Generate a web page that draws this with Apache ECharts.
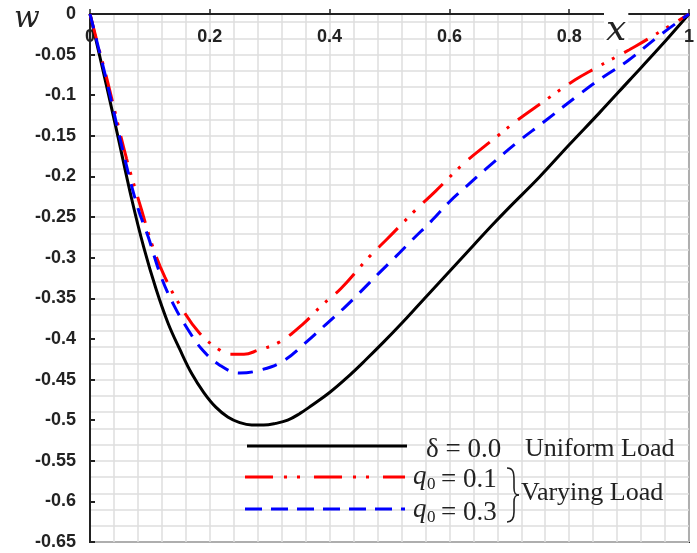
<!DOCTYPE html>
<html>
<head>
<meta charset="utf-8">
<script src="https://cdn.jsdelivr.net/npm/echarts@6/dist/echarts.min.js"></script>
<style>
html,body{margin:0;padding:0;background:#fff;}
#chart{width:697px;height:553px;}
</style>
</head>
<body>
<div id="chart"></div>
<script>
// ---- data ----
var xTicks = [0, 0.2, 0.4, 0.6, 0.8, 1];
var yTicks = [0, -0.05, -0.1, -0.15, -0.2, -0.25, -0.3, -0.35, -0.4, -0.45, -0.5, -0.55, -0.6, -0.65];

var uniformX = [0, 0.02, 0.044, 0.07, 0.09, 0.11, 0.13, 0.15, 0.17, 0.19, 0.21, 0.23, 0.25, 0.27, 0.29, 0.31, 0.33, 0.35, 0.37, 0.40, 0.43, 0.46, 0.49, 0.52, 0.55, 0.58, 0.61, 0.64, 0.67, 0.70, 0.75, 0.80, 0.85, 0.90, 0.95, 1];
var uniformW = [0, -0.064, -0.142, -0.229, -0.288, -0.338, -0.380, -0.413, -0.443, -0.466, -0.484, -0.496, -0.503, -0.506, -0.506, -0.504, -0.500, -0.492, -0.482, -0.466, -0.447, -0.426, -0.404, -0.381, -0.357, -0.333, -0.309, -0.285, -0.261, -0.238, -0.201, -0.161, -0.122, -0.082, -0.042, 0];

var q01X = [0, 0.015, 0.03, 0.061, 0.086, 0.105, 0.125, 0.153, 0.183, 0.2135, 0.233, 0.257, 0.28, 0.316, 0.355, 0.388, 0.419, 0.466, 0.496, 0.544, 0.577, 0.624, 0.660, 0.679, 0.713, 0.749, 0.81, 0.843, 0.91, 0.96, 1];
var q01W = [0, -0.043, -0.085, -0.178, -0.241, -0.287, -0.324, -0.362, -0.393, -0.412, -0.419, -0.419, -0.414, -0.404, -0.382, -0.358, -0.338, -0.299, -0.277, -0.241, -0.218, -0.184, -0.162, -0.151, -0.131, -0.112, -0.081, -0.067, -0.040, -0.018, 0];

var q03X = [0, 0.015, 0.029, 0.058, 0.080, 0.097, 0.119, 0.141, 0.164, 0.186, 0.216, 0.250, 0.286, 0.323, 0.361, 0.394, 0.424, 0.449, 0.4825, 0.510, 0.538, 0.571, 0.599, 0.627, 0.662, 0.715, 0.754, 0.815, 0.854, 0.899, 0.948, 1];
var q03W = [0, -0.044, -0.086, -0.178, -0.239, -0.274, -0.324, -0.360, -0.389, -0.412, -0.432, -0.442, -0.438, -0.427, -0.404, -0.382, -0.362, -0.344, -0.319, -0.299, -0.278, -0.254, -0.232, -0.213, -0.190, -0.157, -0.135, -0.100, -0.079, -0.057, -0.028, 0];

function pairs(xs, ys) { return xs.map(function (x, i) { return [x, ys[i]]; }); }

var chart = echarts.init(document.getElementById('chart'), null, {renderer: 'canvas'});
var lblFont = {fontFamily: 'Liberation Sans, Arial, sans-serif', fontWeight: 'bold', fontSize: 18, color: '#222'};
var serif = 'Liberation Serif, Times New Roman, serif';
function fmt(v) { return String(Number(v.toFixed(2))); }
function bez(x1, y1, c1x, c1y, c2x, c2y, x2, y2) {
  return {type: 'bezierCurve', z: 10, shape: {x1: x1, y1: y1, cpx1: c1x, cpy1: c1y, cpx2: c2x, cpy2: c2y, x2: x2, y2: y2}, style: {stroke: '#222', lineWidth: 1.6, fill: null}};
}
function seg(x1, y1, x2, y2) {
  return {type: 'line', z: 10, shape: {x1: x1, y1: y1, x2: x2, y2: y2}, style: {stroke: '#222', lineWidth: 1.6}};
}

var option = {
  backgroundColor: '#fff',
  animation: false,
  grid: {left: 90, top: 14, width: 601, height: 528, show: true, borderColor: '#222', borderWidth: 2, backgroundColor: 'transparent'},
  xAxis: [
    {
      type: 'value', position: 'top', min: xTicks[0], max: xTicks[xTicks.length - 1], interval: 0.2,
      axisLine: {show: true, onZero: false, lineStyle: {color: '#222', width: 2}},
      axisTick: {show: true, inside: false, length: 5, lineStyle: {color: '#222', width: 1.5}},
      axisLabel: Object.assign({inside: true, margin: 14, formatter: fmt}, lblFont),
      splitLine: {show: false}
    },
    {
      type: 'value', position: 'bottom', min: 0, max: 1, interval: 0.04,
      axisLine: {show: false}, axisTick: {show: false}, axisLabel: {show: false},
      splitLine: {show: true, lineStyle: {color: '#dedede', width: 1.5}}
    }
  ],
  yAxis: [
    {
      type: 'value', min: yTicks[yTicks.length - 1], max: yTicks[0], interval: 0.05,
      axisLine: {show: true, onZero: false, lineStyle: {color: '#222', width: 2}},
      axisTick: {show: true, inside: true, length: 5, lineStyle: {color: '#222', width: 2}},
      axisLabel: Object.assign({margin: 14, formatter: fmt}, lblFont),
      splitLine: {show: false}
    },
    {
      type: 'value', min: -0.65, max: 0, interval: 0.02, position: 'right',
      axisLine: {show: false}, axisTick: {show: false}, axisLabel: {show: false},
      splitLine: {show: true, lineStyle: {color: '#dedede', width: 1.5}}
    }
  ],
  series: [
    {
      name: 'Uniform', type: 'line', xAxisIndex: 0, yAxisIndex: 0, data: pairs(uniformX, uniformW),
      showSymbol: false, smooth: 0.4, z: 3,
      lineStyle: {color: '#000', width: 3}
    },
    {
      name: 'q0=0.1', type: 'line', xAxisIndex: 0, yAxisIndex: 0, data: pairs(q01X, q01W),
      showSymbol: false, smooth: 0.4, z: 4,
      lineStyle: {color: '#ff0000', width: 3, type: [27, 10, 3, 9, 3, 11]}
    },
    {
      name: 'q0=0.3', type: 'line', xAxisIndex: 0, yAxisIndex: 0, data: pairs(q03X, q03W),
      showSymbol: false, smooth: 0.4, z: 5,
      lineStyle: {color: '#0000ff', width: 3, type: [15, 10]}
    }
  ],
  graphic: [
    {type: 'text', x: 14, y: 4, z: 10, style: {text: 'w', font: 'italic 30px DejaVu Serif, serif', fill: '#222'}},
    {type: 'text', x: 604, y: 13, z: 10, style: {text: 'x', font: 'italic 36px DejaVu Serif, serif', fill: '#222', backgroundColor: '#fff', padding: [0, 2, 0, 2]}},
    {type: 'line', z: 10, shape: {x1: 247, y1: 446, x2: 407, y2: 446}, style: {stroke: '#000', lineWidth: 3}},
    {type: 'line', z: 10, shape: {x1: 245, y1: 477, x2: 405, y2: 477}, style: {stroke: '#ff0000', lineWidth: 3, lineDash: [28, 11, 3, 10, 3, 14]}},
    {type: 'line', z: 10, shape: {x1: 245, y1: 509, x2: 405, y2: 509}, style: {stroke: '#0000ff', lineWidth: 3, lineDash: [17, 9]}},
    {type: 'text', z: 10, x: 426, y: 436, style: {text: 'δ = 0.0', font: '27px ' + serif, fill: '#222'}},
    {type: 'text', z: 10, x: 525, y: 436, style: {text: 'Uniform Load', font: '26px ' + serif, fill: '#222'}},
    {type: 'text', z: 10, x: 413, y: 463, style: {text: 'q', font: 'italic 27px ' + serif, fill: '#222'}},
    {type: 'text', z: 10, x: 427, y: 476, style: {text: '0', font: '17px ' + serif, fill: '#222'}},
    {type: 'text', z: 10, x: 441, y: 466, style: {text: '= 0.1', font: '27px ' + serif, fill: '#222'}},
    {type: 'text', z: 10, x: 413, y: 496, style: {text: 'q', font: 'italic 27px ' + serif, fill: '#222'}},
    {type: 'text', z: 10, x: 427, y: 509, style: {text: '0', font: '17px ' + serif, fill: '#222'}},
    {type: 'text', z: 10, x: 441, y: 499, style: {text: '= 0.3', font: '27px ' + serif, fill: '#222'}},
    bez(507, 468, 513, 468, 514, 472, 514, 480),
    seg(514, 480, 514, 488),
    bez(514, 488, 514, 493, 515, 495, 519, 495),
    bez(519, 495, 515, 495, 514, 497, 514, 502),
    seg(514, 502, 514, 512),
    bez(514, 512, 514, 519, 512, 522, 507, 522),
    {type: 'text', z: 10, x: 521, y: 480, style: {text: 'Varying Load', font: '26px ' + serif, fill: '#222'}}
  ]
};
chart.setOption(option);
</script>
</body>
</html>
